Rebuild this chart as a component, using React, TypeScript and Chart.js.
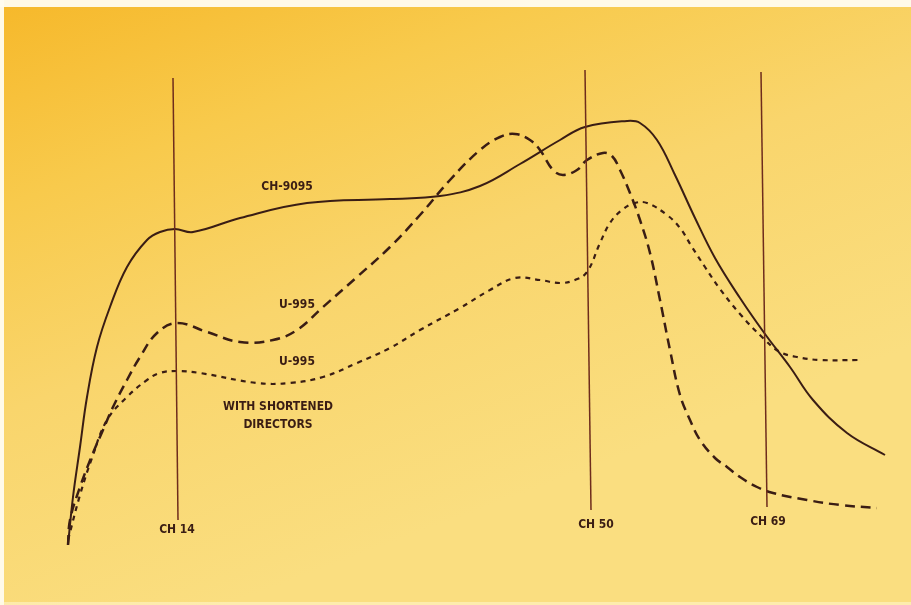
import React, { useEffect, useRef } from "react";
import { Chart, registerables } from "chart.js";

Chart.register(...registerables);

// Horizontal position (relative frequency units) and relative gain values
const ch9095X = [68, 73, 80, 87, 97, 110, 127, 147, 160, 175, 193, 240, 307, 390, 440, 480, 520, 560, 585, 627, 640, 657, 675, 695, 715, 740, 765, 790, 813, 847, 885];
const ch9095Gain = [60, 108, 158, 208, 258, 298, 338, 365, 373, 376, 373, 387, 402, 406, 409, 419, 441, 465, 478, 484, 482, 465, 430, 387, 347, 307, 271, 238, 205, 172, 150];

const u995X = [68, 70, 80, 93, 103, 113, 127, 140, 157, 177, 207, 240, 273, 297, 323, 357, 390, 420, 450, 480, 500, 515, 530, 540, 553, 563, 577, 587, 603, 612, 620, 630, 640, 650, 660, 670, 680, 690, 700, 715, 727, 740, 757, 773, 807, 840, 877];
const u995Gain = [60, 85, 118, 152, 175, 198, 225, 248, 272, 282, 273, 263, 265, 275, 298, 328, 358, 390, 425, 455, 468, 471, 465, 455, 435, 430, 435, 445, 452, 449, 435, 412, 385, 352, 305, 255, 210, 185, 165, 147, 138, 128, 118, 112, 105, 100, 97];

const u995ShortX = [68, 80, 92, 107, 127, 147, 160, 177, 200, 257, 290, 323, 357, 390, 420, 460, 490, 515, 540, 560, 575, 587, 600, 610, 622, 635, 647, 667, 680, 692, 705, 720, 740, 763, 780, 797, 820, 858];
const u995ShortGain = [65, 110, 147, 185, 208, 225, 232, 234, 232, 222, 222, 228, 242, 257, 275, 297, 315, 327, 325, 322, 325, 333, 362, 382, 395, 402, 402, 390, 377, 358, 338, 316, 291, 267, 253, 248, 245, 245];

// Channel marker lines: [x at top, x at bottom], [gain at top, gain at bottom]
const channelNames = ["CH 14", "CH 50", "CH 69"];
const channelTopX = [173, 585, 761];
const channelBottomX = [178, 591, 767];
const channelTopGain = [527, 535, 533];
const channelBottomGain = [85, 95, 98];
const channelLabelX = [177, 596, 768];
const channelLabelGain = [75, 80, 83];

// Curve labels
const curveLabels = ["CH-9095", "U-995", "U-995", "WITH SHORTENED", "DIRECTORS"];
const curveLabelX = [287, 297, 297, 278, 278];
const curveLabelGain = [418, 300, 243, 198, 180];

const INK = "#3a1d14";
const RULE = "#6e2c1c";

const zip = (xs: number[], ys: number[]) => xs.map((x, i) => ({ x, y: ys[i] }));

const backgroundPlugin = {
  id: "paperBg",
  beforeDraw(chart: any) {
    const { ctx, width, height } = chart;
    ctx.save();
    const g = ctx.createLinearGradient(0, 0, width * 0.25, height);
    g.addColorStop(0, "#F6B82A");
    g.addColorStop(0.3, "#F8CA4C");
    g.addColorStop(0.6, "#F9D56C");
    g.addColorStop(1, "#FADE80");
    ctx.fillStyle = g;
    ctx.fillRect(0, 0, width, height);
    // scan edges
    ctx.fillStyle = "rgba(255,252,240,0.95)";
    ctx.fillRect(0, 0, width, 7);
    ctx.fillRect(0, 0, 4, height);
    ctx.fillStyle = "rgba(255,250,220,0.5)";
    ctx.fillRect(0, height - 3, width, 3);
    ctx.restore();
  },
};

const labelPlugin = {
  id: "curveLabels",
  afterDatasetsDraw(chart: any) {
    const { ctx } = chart;
    const xs = chart.scales.x;
    const ys = chart.scales.y;
    ctx.save();
    ctx.fillStyle = INK;
    ctx.textAlign = "center";
    ctx.textBaseline = "middle";
    ctx.font = 'bold 12px "DejaVu Sans Condensed", "Liberation Sans Narrow", sans-serif';
    curveLabels.forEach((t, i) => {
      ctx.fillText(t, xs.getPixelForValue(curveLabelX[i]), ys.getPixelForValue(curveLabelGain[i]));
    });
    channelNames.forEach((t, i) => {
      ctx.fillText(t, xs.getPixelForValue(channelLabelX[i]), ys.getPixelForValue(channelLabelGain[i]));
    });
    ctx.restore();
  },
};

export default function App() {
  const ref = useRef<HTMLCanvasElement | null>(null);

  useEffect(() => {
    if (!ref.current) return;
    const channelSets = channelNames.map((name, i) => ({
      label: name,
      data: [
        { x: channelTopX[i], y: channelTopGain[i] },
        { x: channelBottomX[i], y: channelBottomGain[i] },
      ],
      borderColor: RULE,
      borderWidth: 1.5,
      pointRadius: 0,
      tension: 0,
    }));
    const chart = new Chart(ref.current, {
      type: "line",
      data: {
        datasets: [
          ...channelSets,
          {
            label: "CH-9095",
            data: zip(ch9095X, ch9095Gain),
            borderColor: INK,
            borderWidth: 2,
            pointRadius: 0,
            tension: 0.4,
          },
          {
            label: "U-995",
            data: zip(u995X, u995Gain),
            borderColor: INK,
            borderWidth: 2.5,
            borderDash: [10, 6],
            pointRadius: 0,
            tension: 0.4,
          },
          {
            label: "U-995 with shortened directors",
            data: zip(u995ShortX, u995ShortGain),
            borderColor: INK,
            borderWidth: 2.2,
            borderDash: [5, 5],
            pointRadius: 0,
            tension: 0.4,
          },
        ] as any,
      },
      options: {
        animation: false,
        responsive: false,
        maintainAspectRatio: false,
        layout: { padding: 0 },
        plugins: { legend: { display: false }, tooltip: { enabled: false } },
        scales: {
          x: { type: "linear", min: 0, max: 911, display: false },
          y: { type: "linear", min: 0, max: 605, display: false },
        },
        elements: { line: { borderCapStyle: "butt" } },
      } as any,
      plugins: [backgroundPlugin, labelPlugin],
    });
    return () => chart.destroy();
  }, []);

  return (
    <div style={{ position: "fixed", left: 0, top: 0, width: 911, height: 605 }}>
      <canvas ref={ref} width={911} height={605} style={{ display: "block" }} />
    </div>
  );
}
